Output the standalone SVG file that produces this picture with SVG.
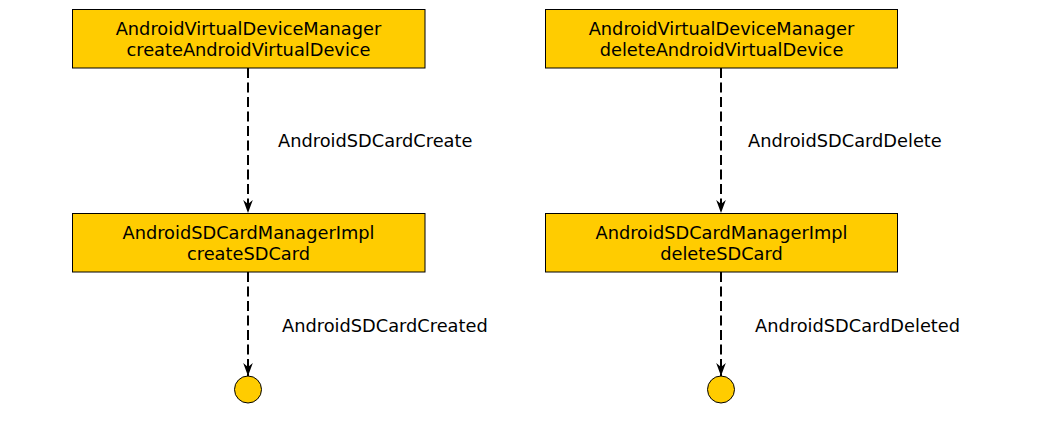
<svg xmlns="http://www.w3.org/2000/svg" width="1037" height="427" viewBox="0 0 1037 427">
<style>
.box{fill:#ffcc00;stroke:#000;stroke-width:1}
.t{font-family:"DejaVu Sans","Verdana",sans-serif;font-size:17.8px;fill:#000}
.c{text-anchor:middle}
.edge{stroke:#000;stroke-width:2;fill:none;stroke-dasharray:10,4.5}
.end{fill:#ffcc00;stroke:#000;stroke-width:1}
</style>
<defs>
<marker id="arr" markerUnits="userSpaceOnUse" markerWidth="16" markerHeight="12" viewBox="-14 -6 16 12" refX="0" refY="0" orient="auto">
<path d="M0,0 L-13,-4.8 L-9,0 L-13,4.8 Z" fill="#000"/>
</marker>
</defs>
<rect width="1037" height="427" fill="#fff"/>
<g id="connectors">
<line class="edge" x1="248" y1="68" x2="248" y2="213" marker-end="url(#arr)"/>
<line class="edge" x1="248" y1="272" x2="248" y2="376" marker-end="url(#arr)"/>
<line class="edge" x1="721" y1="68" x2="721" y2="213" marker-end="url(#arr)"/>
<line class="edge" x1="721" y1="272" x2="721" y2="376" marker-end="url(#arr)"/>
<text class="t" x="278" y="147">AndroidSDCardCreate</text>
<text class="t" x="282" y="331.5">AndroidSDCardCreated</text>
<text class="t" x="748" y="147">AndroidSDCardDelete</text>
<text class="t" x="755" y="331.5">AndroidSDCardDeleted</text>
</g>
<g id="avd-create">
<rect class="box" x="72.5" y="9.5" width="352.5" height="58.5"/>
<text class="t c" x="248.5" y="35">AndroidVirtualDeviceManager</text>
<text class="t c" x="248.5" y="55.7">createAndroidVirtualDevice</text>
</g>
<g id="sd-create">
<rect class="box" x="72.5" y="213.5" width="352.5" height="58.5"/>
<text class="t c" x="248.5" y="239">AndroidSDCardManagerImpl</text>
<text class="t c" x="248.5" y="259.7">createSDCard</text>
</g>
<g id="end-create">
<circle class="end" cx="248" cy="389.5" r="13.5"/>
</g>
<g id="avd-delete">
<rect class="box" x="545.5" y="9.5" width="352" height="58.5"/>
<text class="t c" x="721.5" y="35">AndroidVirtualDeviceManager</text>
<text class="t c" x="721.5" y="55.7">deleteAndroidVirtualDevice</text>
</g>
<g id="sd-delete">
<rect class="box" x="545.5" y="213.5" width="352" height="58.5"/>
<text class="t c" x="721.5" y="239">AndroidSDCardManagerImpl</text>
<text class="t c" x="721.5" y="259.7">deleteSDCard</text>
</g>
<g id="end-delete">
<circle class="end" cx="721" cy="389.5" r="13.5"/>
</g>
</svg>
